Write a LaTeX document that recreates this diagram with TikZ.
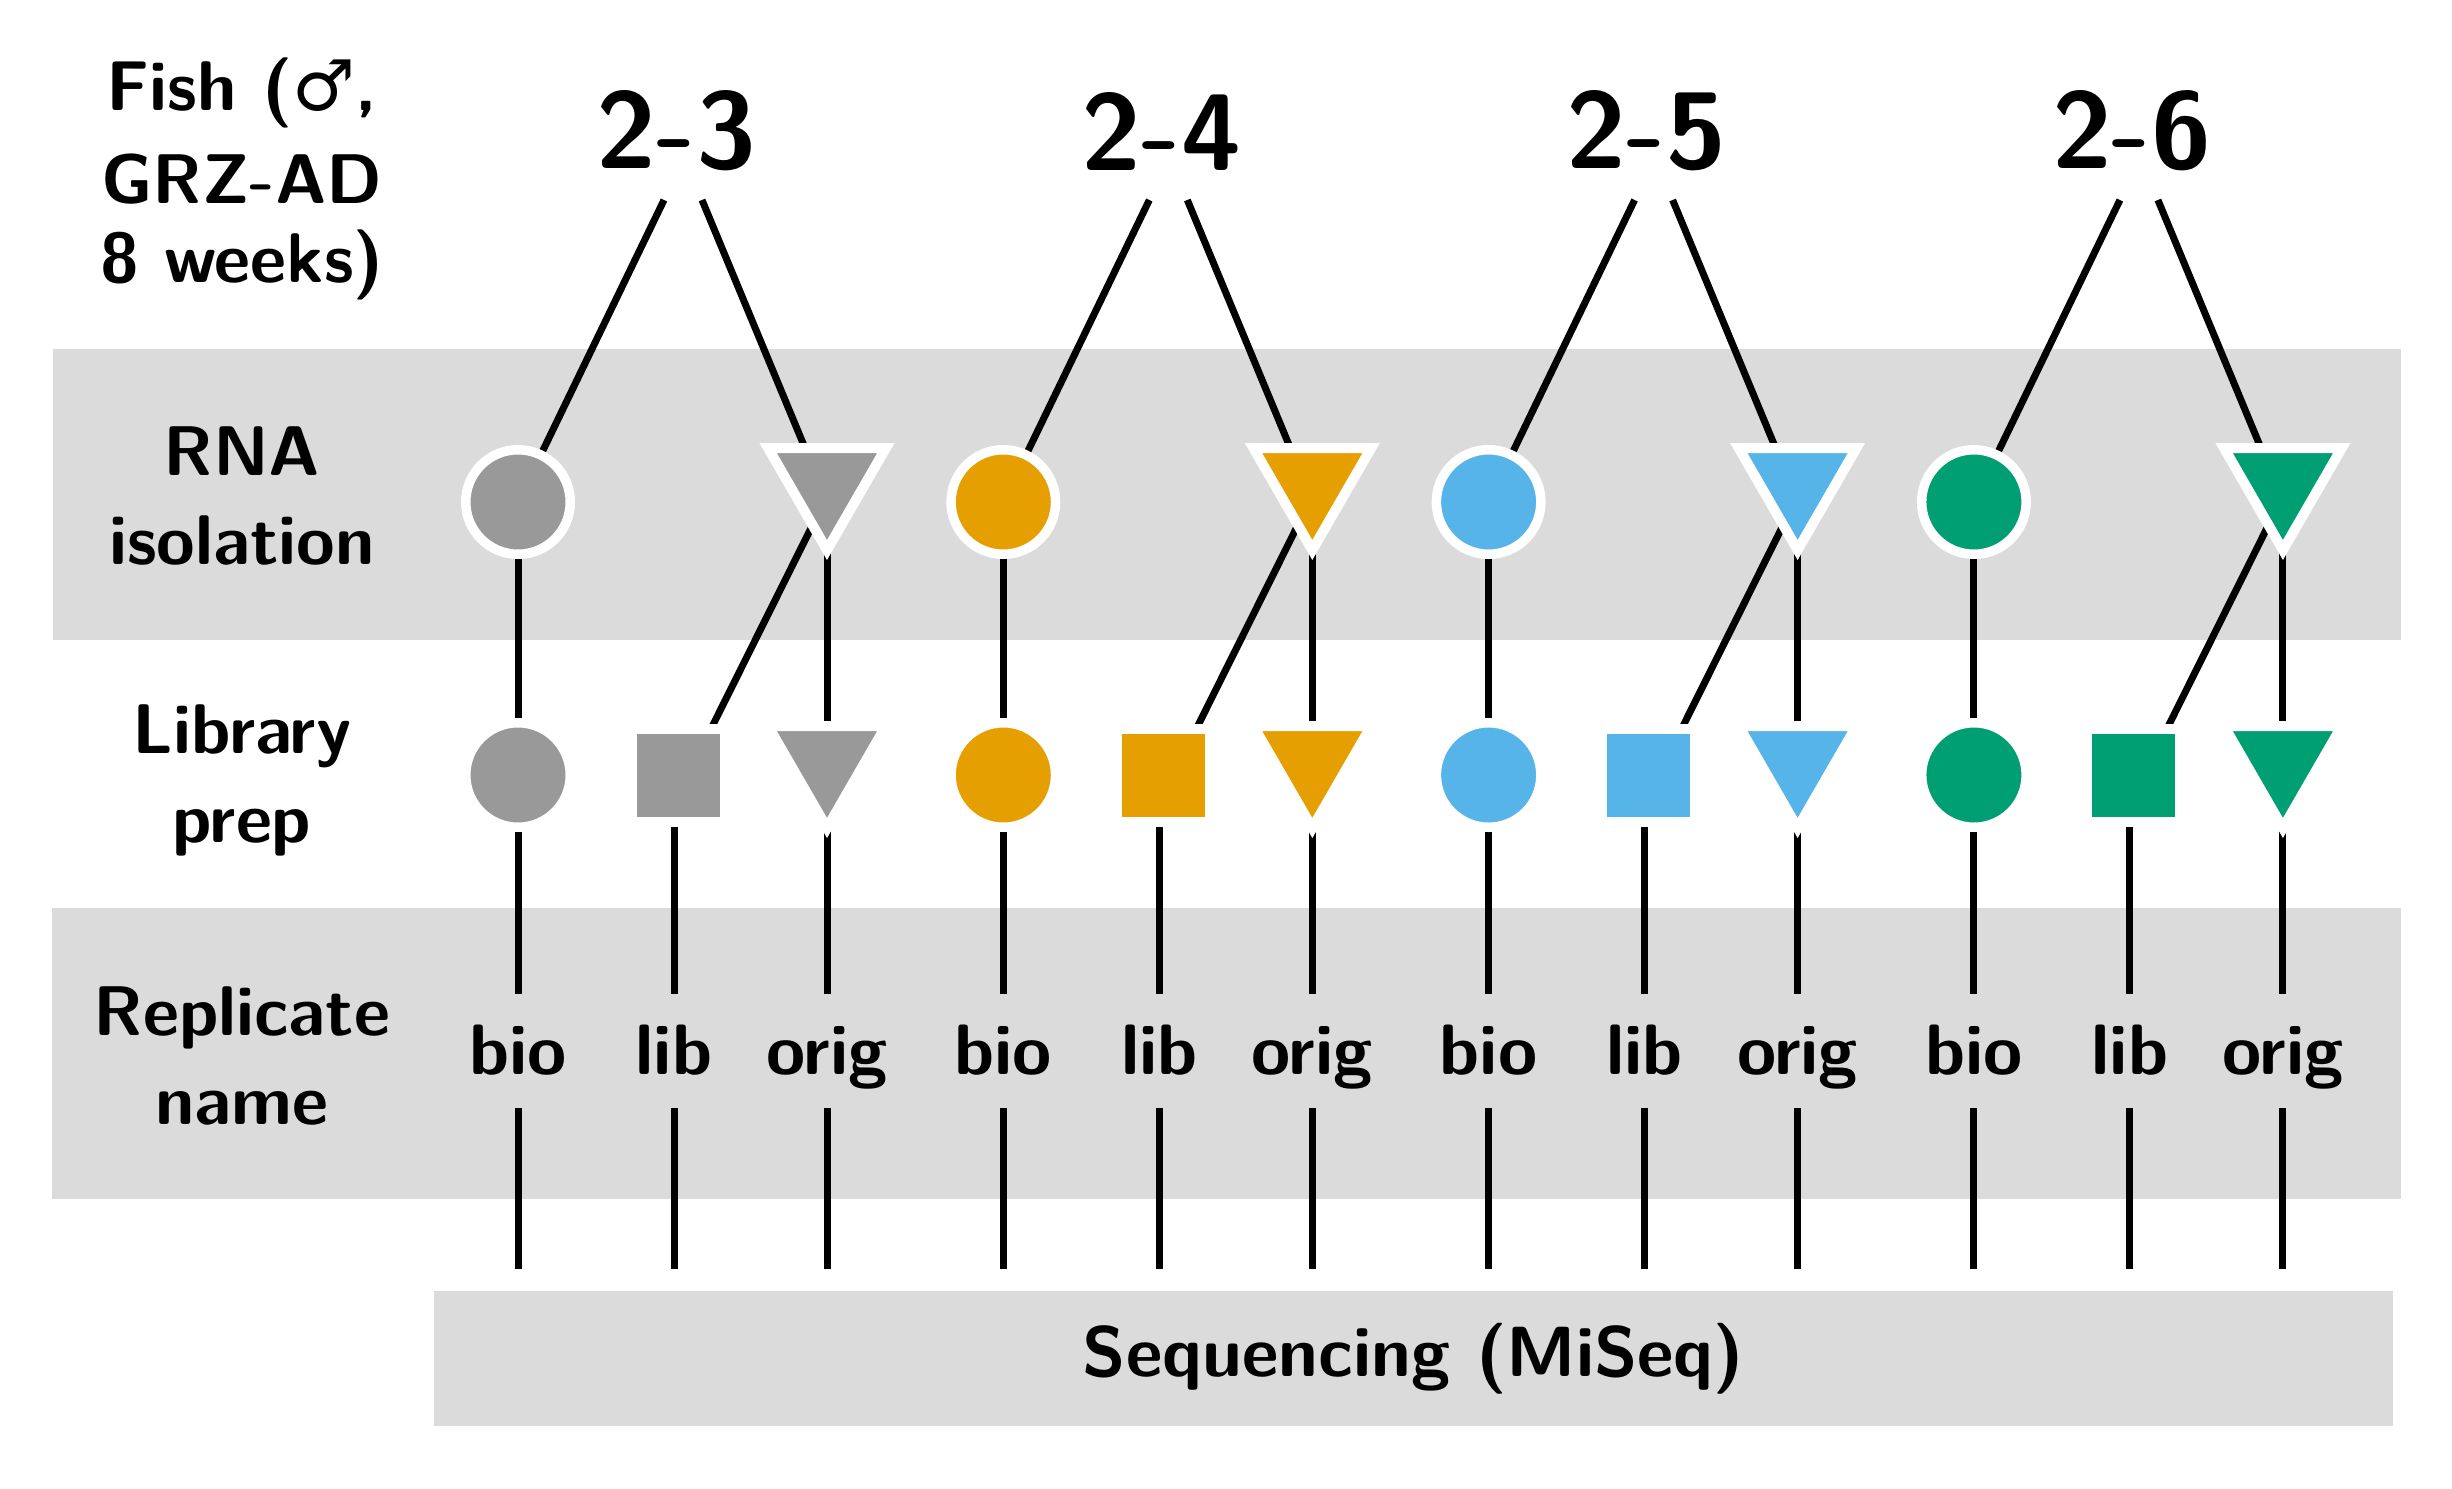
\documentclass[tikz,border=0pt]{standalone}
\usepackage{fontspec}
\newfontfamily\symfont{DejaVu Sans}
\usetikzlibrary{shapes.geometric,calc}
\definecolor{bandgray}{HTML}{DBDBDB}
\definecolor{cgray}{HTML}{999999}
\definecolor{corange}{HTML}{E69F00}
\definecolor{cblue}{HTML}{56B4E9}
\definecolor{cgreen}{HTML}{009E73}
\pgfdeclarelayer{bands}
\pgfdeclarelayer{lines}
\pgfsetlayers{bands,lines,main}
\begin{document}
\begin{tikzpicture}[x=0.1mm,y=-0.1mm,
  every node/.style={font=\sffamily\bfseries},
  rowlab/.style={align=center,inner sep=0,font=\sffamily\bfseries\fontsize{20pt}{25.3pt}\selectfont},
  fishlab/.style={align=center,inner sep=0,font=\sffamily\bfseries\fontsize{20pt}{22.5pt}\selectfont},
  grouplab/.style={inner sep=0,font=\sffamily\bfseries\fontsize{31pt}{37pt}\selectfont},
  replab/.style={inner sep=0,text height=7.9mm,text depth=3.3mm,font=\sffamily\bfseries\fontsize{20.3pt}{25pt}\selectfont},
  dotshape/.style={circle,fill=#1,draw=white,line width=0.95mm,minimum size=10.45mm,inner sep=0},
  sqshape/.style={rectangle,fill=#1,draw=white,line width=1mm,minimum size=9.3mm,inner sep=0},
  trishape/.style={regular polygon,regular polygon sides=3,shape border rotate=180,fill=#1,draw=white,line width=1mm,minimum size=13.6mm,inner sep=0},
  conn/.style={line width=0.7mm,black}]
\useasboundingbox (0,0) rectangle (2452,1488);
\begin{pgfonlayer}{bands}
\fill[bandgray] (53,349) rectangle (2401,640);
\fill[bandgray] (52,908) rectangle (2401,1199);
\end{pgfonlayer}
% row labels
\node[fishlab] (fish) at (242,179) {Fish ({\symfont\mdseries ♂},\\[4pt]GRZ-AD\\8 weeks)};
\node[rowlab] (rna) at (242,496) {RNA\\isolation};
\node[rowlab] (lib) at (242,780) {Library\\prep};
\node[rowlab] (rep) at (242,1056) {Replicate\\name};
% sequencing box
\node[fill=bandgray,minimum width=195.9mm,minimum height=13.5mm,inner sep=0,font=\sffamily\bfseries\fontsize{20.2pt}{25pt}\selectfont] (seq) at (1413.5,1358.5) {Sequencing (MiSeq)};
\foreach \g/\c/\n in {0/cgray/2-3,1/corange/2-4,2/cblue/2-5,3/cgreen/2-6}{
  \pgfmathsetmacro\cx{518+485.3*\g}
  \node[grouplab] (f\g) at (\cx+158,131) {\n};
  \node[dotshape=\c] (rc\g) at (\cx,502) {};
  \node[trishape=\c] (rt\g) at (\cx+309,482) {};
  \node[dotshape=\c] (lc\g) at (\cx,775) {};
  \node[sqshape=\c] (ls\g) at (\cx+160,775) {};
  \node[trishape=\c] (lt\g) at (\cx+309,760) {};
  \node[replab] (nb\g) at (\cx,1051) {bio};
  \node[replab] (nl\g) at (\cx+156,1051) {lib};
  \node[replab] (no\g) at (\cx+309,1051) {orig};
  \coordinate (eb\g) at (\cx,1269);
  \coordinate (el\g) at (\cx+156,1269);
  \coordinate (eo\g) at (\cx+309,1269);
  \begin{pgfonlayer}{lines}
  \draw[conn] ($(f\g.center)+(-12,69)$) -- (rc\g.center);
  \draw[conn] ($(f\g.center)+(26,69)$) -- ($(rt\g.center)+(0,19)$);
  \draw[conn] (rc\g.center) -- (lc\g.center);
  \draw[conn] (rt\g.center) -- (lt\g.center);
  \draw[conn] ($(rt\g.center)+(7,0)$) -- ($(ls\g.center)+(10,0)$);
  \draw[conn] (lc\g.center) -- (nb\g.north);
  \draw[conn] ($(ls\g.center)+(-4,0)$) -- (nl\g.north);
  \draw[conn] (lt\g.center) -- (no\g.north);
  \draw[conn] (nb\g.south) -- (eb\g);
  \draw[conn] (nl\g.south) -- (el\g);
  \draw[conn] (no\g.south) -- (eo\g);
  \end{pgfonlayer}
}
\end{tikzpicture}
\end{document}
